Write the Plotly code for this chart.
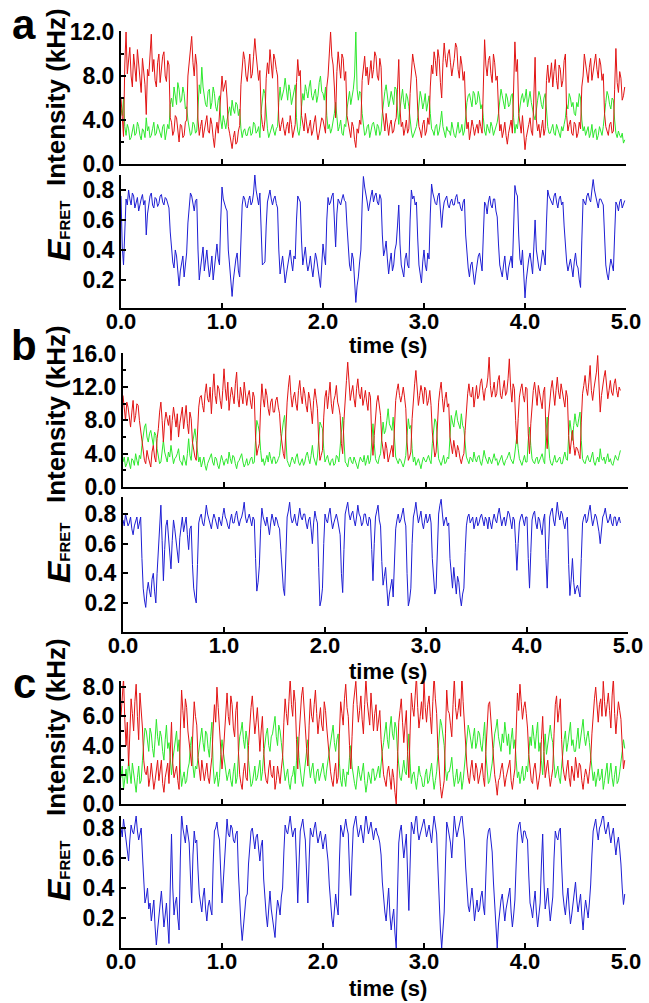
import plotly.graph_objects as go

W, H = 649, 1003
FRAME = 0.0125  # frame time in seconds

# ---------------- panel a ----------------
a_red = [
 6.0, 3.8, 2.5, 9.0, 12.0, 8.2, 9.5, 10.6, 8.0, 7.0, 10.0, 8.8, 7.5, 10.4, 9.0, 7.8, 6.5, 9.6, 8.5, 7.2,
 4.5, 8.6, 8.0, 10.2, 11.8, 8.4, 9.5, 7.6, 7.0, 9.2, 10.0, 7.4, 8.5, 9.8, 10.2, 8.0, 7.5, 9.4, 9.0, 4.2,
 3.8, 2.6, 3.0, 4.4, 4.2, 3.2, 2.0, 3.6, 3.5, 2.4, 2.6, 3.8, 4.0, 8.0, 9.5, 10.4, 11.6, 9.2, 8.0, 10.0,
 9.0, 4.0, 2.6, 3.4, 4.0, 2.4, 3.2, 3.8, 4.4, 3.0, 2.8, 4.2, 3.6, 2.4, 1.5, 3.0, 3.8, 2.8, 4.6, 6.8,
 8.0, 6.6, 7.0, 7.6, 6.0, 3.4, 2.8, 2.0, 1.4, 2.4, 3.0, 1.8, 2.0, 3.0, 3.5, 7.2, 8.5, 10.2, 9.5, 8.0,
 7.5, 9.0, 10.0, 7.8, 8.2, 9.8, 11.4, 10.0, 9.0, 7.6, 8.5, 4.6, 3.6, 3.0, 4.0, 7.8, 9.2, 8.2, 10.4, 8.8,
 7.8, 10.0, 9.5, 8.6, 8.0, 4.0, 3.0, 3.6, 4.2, 3.2, 2.6, 3.4, 3.8, 2.8, 4.4, 3.6, 2.4, 3.0, 3.6, 7.4,
 9.5, 8.0, 8.5, 4.4, 3.8, 3.0, 4.6, 3.6, 2.8, 3.4, 4.0, 2.6, 3.0, 3.8, 4.4, 3.0, 2.2, 2.8, 3.4, 4.2,
 4.0, 3.2, 2.8, 7.0, 8.0, 10.0, 12.0, 9.8, 9.0, 7.0, 4.2, 8.4, 10.2, 9.0, 7.8, 10.0, 9.6, 7.6, 8.4, 4.4,
 3.8, 3.0, 2.4, 3.8, 3.4, 2.2, 1.5, 3.2, 2.8, 4.0, 3.6, 7.6, 9.0, 9.8, 8.0, 8.8, 7.2, 8.4, 9.4, 7.8,
 8.6, 10.2, 9.8, 8.0, 7.6, 9.6, 8.8, 5.0, 3.6, 3.0, 4.6, 3.4, 2.6, 3.6, 4.0, 2.8, 3.0, 3.8, 4.2, 6.8,
 9.5, 5.0, 3.4, 3.8, 2.6, 3.2, 4.0, 2.8, 3.2, 6.4, 8.4, 10.0, 9.2, 8.6, 7.8, 5.0, 3.4, 3.0, 2.4, 3.6,
 4.0, 2.6, 3.0, 4.2, 3.6, 7.0, 9.0, 8.2, 10.2, 9.4, 8.0, 10.4, 9.6, 7.4, 6.0, 9.2, 11.0, 9.6, 8.8, 10.0,
 10.4, 9.2, 8.0, 8.8, 9.6, 11.0, 10.6, 8.6, 7.8, 9.8, 9.0, 7.6, 8.4, 5.0, 3.2, 3.8, 2.2, 3.0, 4.0, 3.4,
 2.6, 3.2, 3.6, 2.8, 4.0, 3.4, 2.8, 7.0, 11.3, 9.0, 8.0, 9.4, 9.8, 8.2, 7.4, 10.0, 9.2, 7.6, 8.0, 5.0,
 3.0, 3.6, 2.4, 3.0, 3.8, 2.6, 1.8, 2.8, 3.4, 4.0, 2.8, 8.0, 11.1, 8.4, 9.5, 4.6, 3.6, 2.8, 4.4, 3.0,
 1.3, 2.4, 3.2, 3.6, 4.2, 3.0, 2.6, 5.6, 9.7, 4.0, 3.0, 3.6, 2.4, 3.2, 4.0, 2.6, 3.2, 7.6, 9.0, 7.4,
 8.0, 9.2, 7.0, 8.4, 9.5, 7.6, 6.8, 9.0, 8.6, 7.0, 7.6, 9.4, 10.0, 4.4, 3.0, 3.6, 4.0, 2.8, 2.6, 3.8,
 3.6, 2.4, 2.8, 3.8, 3.2, 7.0, 8.0, 10.0, 9.2, 8.2, 7.4, 8.8, 9.6, 7.6, 8.4, 9.4, 10.0, 8.6, 7.8, 9.6,
 9.0, 7.6, 8.2, 4.6, 3.4, 3.0, 2.6, 3.6, 3.8, 2.8, 3.0, 6.8, 10.5, 7.4, 6.5, 8.4, 7.8, 5.8, 6.2, 7.0,
]
a_green = [
 5.0, 4.4, 6.0, 3.4, 2.6, 3.6, 3.2, 2.2, 2.4, 3.0, 3.6, 2.6, 2.8, 3.8, 3.4, 2.6, 2.2, 3.2, 3.0, 2.4,
 4.2, 3.0, 3.4, 2.4, 2.6, 3.2, 3.8, 2.6, 2.8, 3.6, 3.2, 2.8, 2.4, 3.4, 3.6, 2.2, 2.8, 3.6, 3.2, 5.4,
 6.0, 5.2, 7.0, 6.2, 5.4, 7.4, 6.8, 5.6, 5.8, 7.0, 6.4, 5.0, 5.2, 4.0, 3.4, 2.6, 2.8, 3.8, 3.6, 2.8,
 3.0, 5.8, 7.2, 6.4, 8.8, 7.0, 6.0, 5.4, 5.2, 6.6, 6.8, 5.0, 5.6, 7.0, 6.4, 5.2, 4.8, 5.8, 6.2, 4.0,
 3.2, 4.4, 3.8, 3.2, 4.0, 4.8, 5.2, 4.4, 5.8, 5.0, 4.6, 5.6, 5.4, 4.4, 5.0, 3.2, 2.4, 3.0, 3.2, 2.6,
 2.6, 3.2, 3.4, 2.6, 2.8, 3.8, 3.6, 2.8, 3.0, 3.4, 2.4, 4.8, 5.6, 6.8, 6.4, 4.4, 3.2, 2.4, 2.8, 3.4,
 3.6, 3.0, 2.6, 3.2, 3.4, 5.6, 7.0, 5.8, 6.2, 6.8, 7.8, 6.4, 5.8, 7.2, 6.6, 5.4, 6.0, 6.8, 7.2, 4.2,
 3.0, 2.6, 3.4, 5.2, 6.4, 5.8, 7.2, 6.6, 6.0, 7.0, 7.6, 6.2, 5.8, 6.4, 6.8, 5.6, 6.2, 7.4, 8.0, 6.6,
 6.4, 5.8, 7.0, 4.4, 3.2, 3.6, 2.8, 3.2, 3.8, 4.6, 5.6, 3.8, 3.0, 3.4, 4.0, 2.8, 2.6, 3.6, 3.4, 5.0,
 6.0, 6.6, 5.4, 6.0, 6.8, 8.0, 12.0, 6.8, 5.8, 6.6, 6.4, 4.6, 3.4, 2.6, 2.8, 3.4, 3.6, 2.4, 3.0, 3.6,
 3.8, 3.0, 2.6, 3.6, 3.4, 2.6, 3.0, 4.6, 6.0, 6.6, 7.2, 6.0, 5.2, 5.8, 6.6, 6.0, 5.4, 7.0, 6.8, 5.0,
 3.6, 5.0, 6.0, 6.8, 5.6, 5.0, 6.4, 6.0, 5.2, 4.0, 3.0, 2.4, 2.8, 3.2, 3.4, 4.2, 5.2, 6.6, 6.0, 5.0,
 5.6, 6.4, 4.8, 5.4, 6.2, 4.6, 3.2, 3.0, 2.6, 3.4, 3.6, 2.6, 3.0, 3.8, 4.8, 3.4, 2.8, 2.4, 3.4, 3.0,
 3.0, 2.6, 3.8, 3.0, 2.6, 2.4, 3.4, 3.8, 2.8, 3.0, 3.6, 2.6, 3.0, 4.4, 5.6, 6.2, 6.4, 5.8, 5.2, 6.6,
 6.4, 5.4, 5.6, 6.6, 6.0, 5.0, 5.4, 4.2, 3.0, 2.6, 3.6, 3.2, 2.8, 3.8, 3.4, 2.6, 3.0, 3.4, 3.8, 4.6,
 5.6, 6.8, 6.2, 5.4, 5.0, 6.4, 6.0, 5.2, 5.4, 6.2, 6.4, 4.2, 2.8, 3.6, 3.2, 4.4, 5.4, 6.0, 6.4, 5.6,
 6.0, 6.8, 5.2, 5.8, 6.6, 5.6, 4.8, 4.4, 4.0, 5.2, 5.8, 6.6, 6.2, 5.4, 5.0, 6.0, 6.4, 5.0, 3.4, 2.8,
 2.8, 3.2, 3.6, 2.8, 2.6, 3.6, 3.2, 2.6, 2.4, 3.4, 3.0, 3.6, 4.2, 5.4, 5.0, 6.4, 6.0, 5.2, 5.6, 4.6,
 4.4, 5.6, 5.2, 6.4, 6.0, 4.0, 3.0, 3.4, 2.6, 3.0, 3.4, 2.4, 2.8, 3.6, 2.4, 3.0, 3.2, 2.2, 2.6, 3.4,
 3.0, 2.6, 3.4, 4.8, 5.6, 6.6, 6.2, 5.4, 5.0, 6.0, 5.8, 4.0, 2.8, 2.4, 3.0, 2.6, 2.4, 2.8, 1.9, 2.2,
]
a_fret = [
 0.76, 0.42, 0.30, 0.56, 0.74, 0.70, 0.80, 0.74, 0.70, 0.78, 0.76, 0.68, 0.72, 0.75, 0.66, 0.71, 0.74, 0.77, 0.70, 0.73,
 0.50, 0.64, 0.72, 0.76, 0.78, 0.70, 0.68, 0.75, 0.74, 0.69, 0.71, 0.76, 0.77, 0.72, 0.70, 0.75, 0.74, 0.70, 0.68, 0.52,
 0.40, 0.32, 0.28, 0.40, 0.36, 0.24, 0.16, 0.26, 0.30, 0.36, 0.22, 0.30, 0.38, 0.58, 0.72, 0.78, 0.76, 0.70, 0.66, 0.73,
 0.74, 0.40, 0.20, 0.28, 0.34, 0.42, 0.26, 0.32, 0.40, 0.30, 0.22, 0.28, 0.36, 0.20, 0.28, 0.38, 0.44, 0.34, 0.30, 0.60,
 0.82, 0.74, 0.70, 0.68, 0.66, 0.40, 0.30, 0.18, 0.09, 0.20, 0.28, 0.34, 0.38, 0.26, 0.22, 0.48, 0.70, 0.76, 0.74, 0.69,
 0.68, 0.73, 0.76, 0.70, 0.72, 0.78, 0.90, 0.80, 0.74, 0.70, 0.78, 0.46, 0.30, 0.31, 0.32, 0.56, 0.72, 0.76, 0.80, 0.74,
 0.70, 0.74, 0.76, 0.71, 0.68, 0.40, 0.24, 0.30, 0.36, 0.28, 0.18, 0.24, 0.30, 0.34, 0.40, 0.32, 0.26, 0.36, 0.34, 0.60,
 0.76, 0.74, 0.72, 0.46, 0.30, 0.36, 0.42, 0.32, 0.26, 0.30, 0.36, 0.28, 0.22, 0.30, 0.38, 0.34, 0.28, 0.20, 0.15, 0.30,
 0.44, 0.36, 0.30, 0.60, 0.75, 0.70, 0.72, 0.76, 0.78, 0.60, 0.42, 0.64, 0.74, 0.72, 0.70, 0.74, 0.77, 0.73, 0.72, 0.56,
 0.38, 0.30, 0.26, 0.38, 0.34, 0.18, 0.05, 0.16, 0.22, 0.32, 0.40, 0.70, 0.89, 0.82, 0.78, 0.72, 0.66, 0.72, 0.76, 0.80,
 0.72, 0.76, 0.78, 0.72, 0.70, 0.77, 0.74, 0.50, 0.36, 0.40, 0.46, 0.34, 0.24, 0.32, 0.38, 0.26, 0.30, 0.40, 0.44, 0.56,
 0.70, 0.44, 0.30, 0.26, 0.22, 0.34, 0.38, 0.30, 0.28, 0.60, 0.80, 0.74, 0.76, 0.70, 0.72, 0.48, 0.30, 0.24, 0.18, 0.32,
 0.40, 0.30, 0.26, 0.38, 0.34, 0.64, 0.84, 0.78, 0.74, 0.71, 0.70, 0.76, 0.78, 0.66, 0.55, 0.66, 0.72, 0.74, 0.76, 0.70,
 0.68, 0.72, 0.74, 0.70, 0.70, 0.75, 0.77, 0.71, 0.72, 0.68, 0.66, 0.72, 0.74, 0.50, 0.36, 0.28, 0.22, 0.30, 0.32, 0.24,
 0.17, 0.24, 0.30, 0.36, 0.38, 0.30, 0.26, 0.50, 0.72, 0.70, 0.64, 0.72, 0.76, 0.70, 0.68, 0.74, 0.74, 0.66, 0.62, 0.44,
 0.30, 0.26, 0.22, 0.30, 0.36, 0.26, 0.20, 0.28, 0.32, 0.36, 0.28, 0.60, 0.83, 0.78, 0.76, 0.50, 0.34, 0.30, 0.40, 0.24,
 0.08, 0.20, 0.30, 0.34, 0.38, 0.30, 0.24, 0.42, 0.60, 0.40, 0.32, 0.28, 0.26, 0.34, 0.40, 0.36, 0.30, 0.58, 0.80, 0.76,
 0.74, 0.72, 0.70, 0.76, 0.78, 0.72, 0.68, 0.74, 0.76, 0.70, 0.72, 0.56, 0.40, 0.32, 0.26, 0.30, 0.34, 0.28, 0.22, 0.32,
 0.38, 0.30, 0.28, 0.20, 0.15, 0.46, 0.74, 0.72, 0.70, 0.76, 0.78, 0.74, 0.72, 0.80, 0.87, 0.80, 0.76, 0.70, 0.68, 0.74,
 0.74, 0.72, 0.70, 0.50, 0.30, 0.24, 0.20, 0.28, 0.34, 0.30, 0.26, 0.50, 0.72, 0.70, 0.66, 0.72, 0.74, 0.68, 0.70, 0.73,
]

# ---------------- panel b ----------------
b_red = [
 11.0, 9.4, 8.0, 10.2, 9.6, 8.4, 7.2, 9.0, 10.4, 7.8, 8.6, 10.0, 9.8, 8.0, 6.8, 5.0, 4.0, 3.2, 2.8, 4.4,
 3.6, 3.0, 2.4, 4.2, 5.0, 3.6, 3.0, 5.8, 7.0, 9.0, 10.2, 8.0, 5.4, 7.8, 9.0, 8.2, 7.4, 8.6, 5.6, 8.0,
 9.6, 8.4, 7.2, 8.8, 6.0, 7.6, 8.8, 9.6, 7.0, 8.4, 9.8, 7.6, 6.4, 9.0, 8.2, 5.4, 4.2, 3.6, 3.2, 6.4,
 9.6, 10.8, 11.0, 9.8, 9.0, 11.2, 12.4, 10.6, 10.2, 12.0, 8.8, 11.4, 13.6, 11.0, 10.0, 12.2, 11.8, 10.4, 9.4, 11.6,
 14.2, 11.8, 10.4, 12.6, 9.2, 10.8, 12.0, 11.0, 10.0, 12.4, 13.8, 10.6, 9.6, 12.0, 11.2, 10.0, 12.6, 11.4, 9.8, 11.0,
 11.6, 10.2, 9.4, 11.4, 10.8, 6.0, 3.8, 4.6, 5.2, 9.6, 12.4, 10.6, 9.6, 11.8, 11.0, 9.4, 8.6, 10.2, 10.6, 9.0,
 9.0, 10.4, 10.8, 9.6, 8.8, 6.4, 5.0, 4.0, 3.4, 7.0, 10.2, 12.0, 13.4, 11.0, 9.6, 10.8, 11.4, 10.0, 9.2, 11.6,
 12.8, 11.0, 10.0, 12.0, 11.2, 9.8, 9.0, 11.4, 10.6, 9.2, 7.6, 10.4, 11.8, 10.6, 9.4, 5.6, 3.2, 3.8, 4.4, 8.4,
 10.8, 11.6, 9.4, 11.0, 12.6, 10.0, 8.8, 10.4, 11.0, 12.2, 10.2, 9.6, 8.6, 5.2, 4.0, 8.0, 11.4, 12.8, 15.0, 11.8,
 10.4, 11.4, 12.2, 10.6, 9.6, 11.8, 13.0, 11.2, 10.6, 12.0, 9.8, 10.6, 11.6, 10.2, 9.2, 11.4, 10.8, 6.0, 3.8, 6.2,
 9.0, 10.2, 11.0, 9.6, 8.6, 5.6, 4.2, 3.4, 5.4, 4.6, 3.0, 3.8, 4.4, 5.0, 3.6, 7.4, 10.4, 11.6, 12.4, 11.0,
 10.2, 11.0, 12.0, 10.8, 9.4, 5.4, 3.2, 3.6, 4.2, 8.2, 11.0, 12.4, 14.0, 11.2, 9.8, 11.0, 12.2, 11.4, 10.0, 12.0,
 11.6, 9.8, 10.4, 11.6, 9.8, 6.6, 4.8, 3.6, 4.2, 7.6, 10.2, 11.6, 12.6, 10.6, 9.0, 10.6, 11.4, 9.6, 10.0, 6.0,
 4.8, 4.0, 5.6, 4.6, 3.6, 5.0, 4.4, 3.4, 2.8, 3.6, 4.0, 6.8, 9.6, 11.2, 12.4, 11.0, 10.8, 12.0, 9.6, 11.4,
 12.2, 10.6, 11.0, 12.4, 13.0, 11.6, 10.4, 11.8, 12.0, 13.2, 15.6, 12.2, 10.8, 11.6, 12.6, 10.8, 11.2, 12.8, 13.4, 11.0,
 10.6, 11.8, 12.8, 11.0, 11.4, 13.0, 15.4, 12.0, 10.2, 12.4, 11.8, 8.0, 5.2, 8.2, 10.8, 11.8, 12.4, 11.0, 10.2, 12.0,
 11.8, 6.4, 4.0, 7.6, 10.4, 11.6, 12.6, 10.8, 9.8, 12.2, 11.2, 10.0, 9.4, 11.4, 12.0, 6.6, 4.6, 8.4, 10.6, 11.8,
 12.8, 11.0, 9.8, 11.6, 13.2, 11.4, 10.6, 12.4, 11.4, 10.2, 9.6, 11.6, 10.8, 6.2, 4.0, 5.4, 6.8, 5.0, 3.8, 4.8,
 4.6, 4.0, 3.4, 7.8, 11.2, 12.2, 13.4, 11.8, 11.0, 12.6, 14.6, 11.6, 10.4, 11.8, 12.6, 13.8, 15.8, 11.4, 9.0, 11.0,
 12.4, 13.2, 14.0, 11.8, 10.6, 11.6, 12.8, 11.4, 11.0, 12.4, 13.0, 11.6, 10.8, 12.0, 11.6,
]
b_green = [
 3.0, 3.6, 2.4, 2.8, 3.6, 3.0, 2.2, 3.4, 3.2, 2.6, 4.0, 3.2, 2.6, 3.8, 3.4, 5.0, 6.4, 7.2, 7.6, 6.0,
 5.4, 6.4, 6.8, 5.6, 5.0, 6.6, 6.2, 4.6, 3.8, 2.8, 3.0, 4.0, 5.6, 4.2, 3.4, 3.0, 4.2, 3.6, 5.0, 3.8,
 2.8, 3.4, 3.6, 4.0, 4.6, 3.2, 3.0, 2.6, 3.8, 3.2, 2.6, 4.0, 5.8, 3.8, 3.2, 5.2, 6.4, 7.0, 5.6, 4.2,
 3.0, 3.6, 2.4, 3.0, 3.6, 2.6, 2.0, 2.8, 3.2, 3.8, 4.0, 3.0, 2.6, 3.6, 3.4, 2.6, 2.2, 3.0, 3.8, 3.2,
 2.6, 3.2, 3.4, 2.8, 4.2, 3.4, 2.8, 3.8, 3.6, 2.8, 2.2, 3.0, 3.2, 3.6, 4.0, 3.0, 2.4, 2.8, 3.4, 2.6,
 2.8, 3.4, 3.6, 2.8, 3.0, 5.6, 8.0, 7.4, 6.6, 4.4, 3.0, 3.4, 2.6, 3.2, 3.8, 3.0, 4.2, 3.4, 2.8, 3.6,
 3.6, 2.8, 3.0, 3.4, 3.8, 5.4, 7.0, 7.8, 8.6, 5.8, 3.2, 2.8, 2.4, 3.0, 3.6, 3.2, 2.8, 3.6, 4.0, 3.0,
 2.6, 3.0, 3.4, 2.6, 3.0, 3.8, 4.2, 3.4, 2.8, 3.8, 5.0, 3.6, 3.2, 2.6, 3.6, 5.6, 7.8, 7.4, 7.0, 4.6,
 3.0, 3.4, 3.8, 3.0, 2.6, 3.2, 3.4, 2.6, 2.8, 3.8, 3.6, 3.0, 4.4, 6.6, 8.4, 5.0, 3.0, 2.8, 2.4, 3.4,
 3.6, 3.0, 2.8, 3.6, 3.2, 2.8, 2.2, 3.0, 3.6, 3.2, 3.0, 3.8, 2.6, 3.2, 3.8, 2.8, 3.2, 5.4, 7.6, 5.2,
 3.4, 3.0, 2.8, 3.6, 4.0, 6.0, 7.8, 6.4, 6.8, 8.0, 9.4, 7.6, 7.2, 6.8, 8.4, 5.0, 3.6, 3.2, 2.8, 3.4,
 3.2, 2.8, 2.4, 3.0, 3.8, 6.2, 8.2, 7.0, 7.4, 4.6, 3.0, 3.6, 2.6, 3.0, 3.4, 2.8, 2.2, 3.0, 3.6, 3.2,
 3.0, 3.4, 3.8, 3.2, 2.8, 5.2, 7.2, 8.2, 7.8, 5.0, 3.4, 3.0, 2.6, 3.2, 3.8, 2.8, 3.0, 3.6, 3.4, 6.0,
 8.6, 7.8, 7.2, 8.4, 9.2, 8.0, 7.6, 7.0, 8.8, 7.4, 7.0, 5.0, 3.6, 3.2, 2.8, 3.6, 3.4, 3.0, 4.2, 3.4,
 3.0, 3.6, 3.8, 3.0, 2.6, 3.4, 4.4, 3.6, 3.2, 2.8, 3.6, 3.2, 2.8, 3.4, 4.0, 3.2, 3.4, 2.6, 3.0, 3.6,
 3.8, 3.0, 2.6, 3.2, 3.4, 3.8, 4.2, 3.4, 3.0, 2.8, 3.6, 4.8, 6.2, 4.6, 3.4, 3.0, 2.6, 3.2, 3.8, 3.0,
 3.0, 5.6, 7.2, 5.0, 3.4, 3.0, 2.8, 3.4, 3.6, 2.8, 3.2, 3.6, 4.0, 3.2, 2.8, 6.4, 8.4, 5.4, 3.4, 2.8,
 2.6, 3.2, 3.8, 3.0, 3.0, 3.4, 3.6, 2.8, 2.8, 3.6, 4.2, 3.4, 3.2, 6.2, 8.0, 6.8, 5.6, 7.4, 8.8, 7.6,
 7.2, 8.2, 9.0, 5.6, 3.4, 3.0, 2.8, 3.4, 3.8, 3.2, 3.0, 3.6, 4.2, 3.0, 2.6, 3.2, 3.6, 3.0, 4.6, 3.4,
 3.2, 3.6, 2.8, 3.4, 4.0, 3.0, 3.4, 2.8, 2.6, 3.2, 3.8, 3.4, 3.2, 3.8, 4.4,
]
b_fret = [
 0.76, 0.72, 0.80, 0.76, 0.72, 0.74, 0.78, 0.70, 0.66, 0.72, 0.75, 0.78, 0.70, 0.74, 0.78, 0.50, 0.30, 0.22, 0.17, 0.28,
 0.34, 0.28, 0.24, 0.36, 0.40, 0.28, 0.20, 0.40, 0.58, 0.74, 0.86, 0.62, 0.35, 0.56, 0.72, 0.76, 0.64, 0.54, 0.43, 0.62,
 0.76, 0.70, 0.62, 0.56, 0.47, 0.64, 0.74, 0.78, 0.68, 0.72, 0.78, 0.66, 0.56, 0.70, 0.72, 0.46, 0.30, 0.24, 0.20, 0.46,
 0.74, 0.78, 0.80, 0.74, 0.72, 0.78, 0.86, 0.80, 0.76, 0.72, 0.70, 0.76, 0.80, 0.77, 0.74, 0.70, 0.78, 0.75, 0.72, 0.79,
 0.84, 0.78, 0.76, 0.72, 0.70, 0.76, 0.80, 0.74, 0.74, 0.79, 0.82, 0.76, 0.72, 0.76, 0.78, 0.82, 0.88, 0.78, 0.74, 0.77,
 0.80, 0.76, 0.72, 0.78, 0.76, 0.50, 0.28, 0.34, 0.45, 0.70, 0.84, 0.78, 0.74, 0.72, 0.78, 0.70, 0.66, 0.74, 0.80, 0.76,
 0.72, 0.78, 0.76, 0.72, 0.70, 0.56, 0.40, 0.30, 0.25, 0.56, 0.78, 0.82, 0.88, 0.78, 0.74, 0.76, 0.80, 0.74, 0.72, 0.78,
 0.84, 0.78, 0.76, 0.80, 0.80, 0.74, 0.70, 0.76, 0.78, 0.70, 0.60, 0.74, 0.82, 0.77, 0.74, 0.44, 0.18, 0.22, 0.30, 0.60,
 0.80, 0.76, 0.74, 0.80, 0.84, 0.76, 0.70, 0.74, 0.78, 0.80, 0.76, 0.72, 0.66, 0.40, 0.27, 0.56, 0.80, 0.84, 0.88, 0.80,
 0.76, 0.80, 0.82, 0.76, 0.72, 0.78, 0.86, 0.80, 0.78, 0.72, 0.74, 0.80, 0.80, 0.74, 0.72, 0.78, 0.76, 0.56, 0.35, 0.60,
 0.78, 0.82, 0.86, 0.76, 0.72, 0.48, 0.32, 0.38, 0.44, 0.30, 0.18, 0.26, 0.30, 0.36, 0.24, 0.46, 0.70, 0.76, 0.80, 0.74,
 0.76, 0.80, 0.84, 0.76, 0.72, 0.40, 0.18, 0.22, 0.30, 0.60, 0.78, 0.82, 0.88, 0.80, 0.74, 0.78, 0.82, 0.74, 0.70, 0.76,
 0.80, 0.74, 0.76, 0.80, 0.74, 0.50, 0.33, 0.26, 0.30, 0.60, 0.80, 0.86, 0.90, 0.80, 0.72, 0.76, 0.78, 0.72, 0.74, 0.50,
 0.36, 0.30, 0.44, 0.34, 0.26, 0.38, 0.34, 0.24, 0.18, 0.26, 0.30, 0.54, 0.72, 0.78, 0.80, 0.74, 0.76, 0.78, 0.70, 0.74,
 0.78, 0.72, 0.74, 0.78, 0.80, 0.76, 0.72, 0.78, 0.76, 0.70, 0.78, 0.74, 0.70, 0.76, 0.80, 0.76, 0.74, 0.80, 0.84, 0.78,
 0.72, 0.76, 0.78, 0.72, 0.76, 0.82, 0.80, 0.74, 0.70, 0.78, 0.76, 0.60, 0.42, 0.60, 0.74, 0.78, 0.80, 0.76, 0.72, 0.78,
 0.78, 0.50, 0.30, 0.54, 0.76, 0.80, 0.82, 0.74, 0.70, 0.78, 0.76, 0.70, 0.66, 0.76, 0.80, 0.50, 0.30, 0.56, 0.78, 0.82,
 0.84, 0.76, 0.72, 0.80, 0.88, 0.80, 0.76, 0.82, 0.80, 0.74, 0.70, 0.76, 0.78, 0.46, 0.25, 0.36, 0.50, 0.34, 0.26, 0.30,
 0.32, 0.28, 0.24, 0.50, 0.74, 0.78, 0.80, 0.74, 0.76, 0.82, 0.86, 0.78, 0.72, 0.76, 0.80, 0.78, 0.74, 0.68, 0.60, 0.72,
 0.78, 0.80, 0.84, 0.78, 0.74, 0.76, 0.80, 0.74, 0.72, 0.78, 0.78, 0.72, 0.76, 0.78, 0.74,
]

# ---------------- panel c ----------------
c_red = [
 6.0, 7.4, 8.6, 5.8, 4.0, 5.6, 2.6, 4.8, 7.2, 6.2, 5.0, 7.0, 8.2, 6.0, 4.4, 7.6, 6.4, 5.2, 3.0, 2.2,
 2.0, 2.6, 1.2, 1.8, 2.8, 2.0, 1.0, 1.6, 2.4, 3.0, 1.6, 2.4, 3.0, 1.4, 0.8, 1.8, 2.2, 2.8, 1.4, 3.6,
 5.6, 2.8, 1.8, 2.2, 2.6, 1.6, 1.0, 5.0, 7.8, 6.4, 5.2, 7.2, 6.6, 5.0, 4.2, 3.4, 2.6, 5.2, 7.0, 6.0,
 5.4, 3.2, 2.2, 1.6, 3.0, 2.4, 1.6, 2.2, 2.8, 1.8, 1.4, 2.4, 3.2, 5.2, 6.8, 5.6, 8.0, 6.6, 5.0, 3.6,
 2.4, 3.4, 4.6, 6.2, 7.6, 6.0, 5.4, 7.4, 6.8, 5.2, 4.6, 6.4, 7.0, 3.6, 2.0, 1.4, 1.0, 2.2, 2.8, 1.8,
 1.6, 4.0, 5.8, 6.6, 7.4, 6.0, 4.8, 5.6, 6.6, 5.2, 3.6, 5.0, 6.0, 3.8, 2.2, 1.6, 1.4, 2.4, 3.0, 2.0,
 1.8, 2.6, 1.0, 1.6, 2.6, 2.0, 1.4, 2.4, 3.2, 5.6, 7.2, 6.2, 5.4, 7.0, 8.6, 6.8, 6.0, 7.8, 7.0, 4.4,
 2.4, 4.6, 6.4, 7.4, 8.0, 6.2, 5.2, 3.8, 2.6, 5.4, 7.2, 6.0, 5.6, 6.8, 7.8, 6.2, 4.8, 5.8, 6.6, 5.4,
 5.0, 7.0, 6.4, 5.2, 4.0, 3.0, 2.2, 1.6, 1.2, 2.2, 2.8, 1.4, 1.8, 4.8, 7.0, 6.2, 5.4, 7.2, 8.2, 6.6,
 6.0, 4.0, 2.4, 4.6, 6.8, 7.6, 8.4, 6.8, 5.6, 6.4, 7.4, 5.8, 4.8, 6.8, 8.6, 7.0, 6.2, 5.4, 7.6, 6.4,
 5.0, 6.2, 6.8, 5.0, 5.8, 6.4, 4.4, 3.0, 2.0, 1.6, 1.2, 2.2, 2.6, 1.8, 1.0, 2.4, 1.8, 0.8, 0.0, 2.8,
 5.6, 6.4, 7.2, 5.6, 4.2, 5.4, 6.4, 3.6, 1.8, 5.0, 7.6, 6.6, 6.0, 7.4, 8.8, 6.6, 5.2, 6.0, 7.0, 5.8,
 8.4, 6.6, 5.6, 6.8, 7.4, 6.0, 4.8, 7.0, 8.8, 7.2, 6.2, 3.8, 2.0, 1.2, 0.4, 1.0, 1.6, 4.8, 7.8, 6.4,
 6.2, 5.4, 4.6, 6.8, 8.6, 6.6, 5.8, 6.4, 7.2, 6.0, 8.8, 7.0, 5.4, 3.6, 2.6, 1.8, 1.4, 2.4, 3.0, 2.0,
 1.6, 2.8, 2.4, 1.4, 1.8, 2.2, 2.8, 1.8, 1.2, 3.6, 5.8, 6.8, 7.0, 5.6, 4.4, 3.0, 2.0, 1.4, 0.6, 1.6,
 1.8, 2.4, 2.8, 2.0, 1.2, 1.8, 2.2, 2.8, 3.0, 1.6, 1.0, 1.8, 2.4, 5.0, 7.6, 6.4, 8.2, 7.0, 5.8, 6.6,
 7.0, 6.2, 5.2, 3.4, 2.2, 1.6, 1.4, 2.4, 2.8, 1.8, 1.0, 1.6, 2.2, 4.4, 6.0, 3.6, 1.8, 2.4, 3.0, 2.0,
 1.2, 1.8, 2.4, 4.8, 6.8, 7.4, 5.6, 6.4, 7.2, 4.4, 2.6, 2.0, 1.6, 2.4, 3.0, 1.8, 1.2, 2.6, 2.2, 1.6,
 3.2, 2.4, 1.8, 2.8, 2.6, 1.6, 1.0, 1.8, 2.4, 2.0, 1.4, 2.2, 3.0, 4.8, 6.4, 7.2, 8.0, 6.6, 5.6, 6.8,
 7.2, 6.0, 8.4, 7.0, 6.0, 6.8, 7.6, 6.4, 5.2, 7.4, 8.6, 6.2, 4.8, 6.0, 7.0, 6.4, 5.8, 4.0, 2.4, 3.0,
]
c_green = [
 1.8, 2.6, 1.0, 1.6, 2.4, 1.4, 3.0, 2.2, 1.4, 2.8, 2.0, 1.2, 0.8, 1.8, 2.6, 1.4, 1.6, 3.0, 4.2, 5.2,
 5.0, 4.2, 3.6, 5.2, 4.8, 3.8, 3.2, 4.4, 5.8, 4.6, 4.0, 5.0, 4.6, 3.6, 3.0, 4.4, 5.4, 3.8, 4.2, 3.2,
 2.0, 3.0, 3.8, 4.6, 5.0, 3.6, 4.4, 2.4, 1.2, 1.8, 2.2, 1.4, 1.6, 2.4, 2.8, 4.0, 4.6, 2.6, 1.8, 2.6,
 2.4, 3.2, 4.0, 4.8, 5.2, 4.2, 3.6, 5.0, 4.8, 3.8, 3.2, 4.6, 5.6, 2.6, 1.4, 1.8, 2.2, 1.2, 1.8, 3.4,
 4.4, 3.6, 3.0, 2.2, 1.6, 2.0, 2.4, 1.6, 1.2, 2.2, 2.8, 1.4, 1.8, 3.4, 4.6, 5.0, 5.6, 4.4, 3.8, 5.0,
 4.4, 3.0, 2.0, 1.2, 1.4, 2.2, 2.6, 1.6, 1.8, 2.4, 3.0, 1.6, 2.2, 3.4, 4.2, 4.8, 5.2, 4.0, 3.6, 4.6,
 4.8, 5.4, 6.0, 4.6, 4.0, 5.4, 5.0, 4.2, 3.4, 2.4, 1.6, 2.0, 2.4, 1.4, 1.0, 1.8, 2.0, 2.6, 1.4, 3.0,
 4.6, 3.2, 2.2, 1.6, 1.2, 2.0, 2.6, 3.6, 4.4, 2.6, 1.8, 2.4, 2.8, 1.8, 1.4, 2.2, 2.4, 1.6, 2.0, 2.6,
 2.8, 2.0, 1.6, 2.4, 3.0, 3.8, 4.4, 4.8, 5.4, 4.2, 3.6, 4.4, 4.8, 2.8, 1.6, 1.2, 2.4, 1.8, 1.2, 2.2,
 2.0, 3.2, 4.0, 2.6, 1.8, 1.4, 1.0, 1.8, 2.6, 2.0, 1.6, 2.2, 2.8, 1.6, 0.8, 1.4, 2.2, 1.8, 1.4, 2.4,
 2.4, 1.6, 1.8, 2.2, 2.6, 1.8, 3.0, 3.6, 4.2, 5.0, 5.6, 4.4, 3.8, 5.2, 6.0, 4.8, 4.4, 5.6, 5.2, 3.6,
 2.4, 1.8, 1.6, 2.4, 3.0, 2.2, 2.0, 3.4, 4.8, 2.8, 1.4, 2.0, 2.2, 1.6, 1.0, 1.8, 2.6, 2.0, 1.8, 1.2,
 1.2, 2.0, 2.4, 1.4, 1.6, 2.2, 2.8, 1.8, 1.0, 1.6, 2.2, 3.4, 4.6, 5.8, 5.4, 4.6, 4.0, 2.4, 1.6, 2.2,
 2.2, 2.6, 3.2, 2.0, 1.2, 1.8, 2.4, 1.4, 1.6, 2.2, 1.0, 1.6, 2.6, 3.6, 4.4, 5.4, 5.0, 4.2, 3.8, 4.6,
 5.2, 3.8, 4.2, 5.0, 4.8, 4.0, 3.6, 4.6, 5.6, 3.4, 2.0, 1.4, 1.6, 2.2, 2.8, 3.8, 4.8, 5.2, 5.8, 4.6,
 4.2, 3.6, 4.8, 4.2, 5.6, 4.6, 4.0, 4.8, 3.4, 4.4, 5.2, 3.8, 4.4, 3.0, 1.8, 2.2, 1.4, 2.0, 2.6, 1.6,
 1.8, 2.6, 2.2, 3.4, 4.6, 4.0, 5.4, 4.6, 3.8, 4.8, 5.6, 3.6, 4.2, 3.0, 2.0, 3.6, 4.8, 3.4, 4.0, 4.8,
 5.4, 4.6, 4.2, 2.8, 1.8, 2.2, 2.6, 1.8, 1.4, 2.6, 3.8, 4.4, 5.0, 3.6, 4.2, 4.8, 5.6, 4.0, 4.4, 3.6,
 3.6, 4.4, 5.2, 3.8, 4.4, 5.0, 5.8, 4.6, 4.0, 4.6, 5.0, 4.2, 3.4, 2.4, 1.6, 2.2, 1.2, 1.8, 2.4, 1.6,
 1.8, 2.4, 1.0, 1.6, 2.2, 2.8, 1.4, 2.0, 2.8, 1.8, 1.2, 2.0, 2.6, 1.4, 1.6, 2.2, 2.8, 3.6, 4.4, 3.8,
]
c_fret = [
 0.80, 0.74, 0.86, 0.78, 0.74, 0.66, 0.58, 0.72, 0.82, 0.78, 0.76, 0.82, 0.88, 0.78, 0.72, 0.76, 0.80, 0.62, 0.40, 0.30,
 0.34, 0.40, 0.26, 0.30, 0.18, 0.24, 0.32, 0.14, 0.02, 0.12, 0.22, 0.30, 0.38, 0.26, 0.14, 0.22, 0.30, 0.16, 0.03, 0.40,
 0.76, 0.40, 0.22, 0.30, 0.34, 0.20, 0.12, 0.60, 0.90, 0.80, 0.76, 0.70, 0.82, 0.76, 0.70, 0.48, 0.30, 0.62, 0.78, 0.70,
 0.72, 0.52, 0.36, 0.30, 0.24, 0.34, 0.40, 0.26, 0.18, 0.28, 0.32, 0.26, 0.22, 0.56, 0.78, 0.80, 0.84, 0.76, 0.72, 0.50,
 0.30, 0.44, 0.60, 0.78, 0.86, 0.76, 0.74, 0.82, 0.80, 0.72, 0.70, 0.76, 0.78, 0.50, 0.30, 0.16, 0.05, 0.18, 0.24, 0.34,
 0.36, 0.56, 0.70, 0.78, 0.80, 0.72, 0.66, 0.74, 0.76, 0.66, 0.58, 0.68, 0.72, 0.46, 0.30, 0.22, 0.14, 0.28, 0.38, 0.26,
 0.20, 0.14, 0.07, 0.22, 0.32, 0.28, 0.22, 0.34, 0.40, 0.64, 0.82, 0.78, 0.76, 0.82, 0.88, 0.80, 0.74, 0.78, 0.80, 0.56,
 0.30, 0.56, 0.78, 0.82, 0.86, 0.78, 0.72, 0.50, 0.30, 0.58, 0.80, 0.76, 0.74, 0.80, 0.84, 0.76, 0.70, 0.74, 0.78, 0.72,
 0.66, 0.72, 0.76, 0.66, 0.58, 0.42, 0.30, 0.20, 0.14, 0.26, 0.36, 0.28, 0.22, 0.58, 0.82, 0.78, 0.74, 0.80, 0.86, 0.80,
 0.76, 0.52, 0.35, 0.60, 0.80, 0.84, 0.88, 0.80, 0.74, 0.78, 0.82, 0.76, 0.70, 0.80, 0.90, 0.82, 0.76, 0.80, 0.84, 0.78,
 0.72, 0.78, 0.80, 0.76, 0.74, 0.70, 0.62, 0.44, 0.30, 0.24, 0.18, 0.30, 0.40, 0.22, 0.12, 0.20, 0.26, 0.10, 0.00, 0.36,
 0.70, 0.78, 0.82, 0.70, 0.60, 0.68, 0.76, 0.50, 0.25, 0.56, 0.84, 0.80, 0.76, 0.84, 0.90, 0.78, 0.72, 0.76, 0.80, 0.84,
 0.86, 0.80, 0.74, 0.78, 0.82, 0.76, 0.70, 0.80, 0.88, 0.82, 0.76, 0.54, 0.30, 0.12, 0.00, 0.14, 0.24, 0.56, 0.84, 0.80,
 0.76, 0.70, 0.60, 0.76, 0.88, 0.80, 0.74, 0.78, 0.82, 0.86, 0.90, 0.80, 0.72, 0.54, 0.36, 0.28, 0.24, 0.34, 0.40, 0.30,
 0.18, 0.26, 0.32, 0.24, 0.26, 0.34, 0.38, 0.28, 0.22, 0.48, 0.72, 0.78, 0.80, 0.72, 0.64, 0.44, 0.30, 0.12, 0.00, 0.16,
 0.26, 0.32, 0.36, 0.24, 0.18, 0.26, 0.30, 0.36, 0.40, 0.24, 0.14, 0.22, 0.32, 0.56, 0.76, 0.82, 0.84, 0.76, 0.70, 0.78,
 0.78, 0.74, 0.72, 0.48, 0.30, 0.26, 0.20, 0.30, 0.38, 0.24, 0.14, 0.22, 0.30, 0.56, 0.76, 0.44, 0.26, 0.32, 0.40, 0.28,
 0.18, 0.26, 0.34, 0.60, 0.78, 0.74, 0.72, 0.78, 0.80, 0.56, 0.36, 0.28, 0.22, 0.32, 0.40, 0.26, 0.16, 0.22, 0.30, 0.38,
 0.44, 0.32, 0.24, 0.30, 0.36, 0.22, 0.12, 0.24, 0.32, 0.26, 0.20, 0.30, 0.42, 0.62, 0.78, 0.82, 0.86, 0.78, 0.72, 0.80,
 0.82, 0.86, 0.90, 0.80, 0.76, 0.80, 0.84, 0.76, 0.70, 0.76, 0.80, 0.70, 0.62, 0.70, 0.74, 0.66, 0.56, 0.40, 0.29, 0.36,
]

x_tickvals = [0, 1, 2, 3, 4, 5]
x_ticktext = ["0.0", "1.0", "2.0", "3.0", "4.0", "5.0"]
fret_tickvals = [0.2, 0.4, 0.6, 0.8]
panel_letters = ["a", "b", "c"]

RED = "rgb(226,20,20)"
GREEN = "rgb(45,232,45)"
BLUE = "rgb(30,30,212)"
FONT = "Liberation Sans, Arial, sans-serif"


def px_x(p):
    return p / W


def px_y(p):
    return 1 - p / H


def frame_times(values):
    return [round(i * FRAME, 5) for i in range(len(values))]


panels = [
    dict(red=a_red, green=a_green, fret=a_fret, xpx=(121, 626), ipx=(31, 164), fpx=(175, 308),
         irange=[0, 12.09], idtick=4, iminor=2, frange=[0.013, 0.9],
         letter_y=24, ititle_y=97, ftitle_y=231, time_y=346),
    dict(red=b_red, green=b_green, fret=b_fret, xpx=(123, 628), ipx=(353, 487), fpx=(497, 632),
         irange=[0, 16.1], idtick=4, iminor=2, frange=[0.004, 0.915],
         letter_y=346, ititle_y=414, ftitle_y=553, time_y=671),
    dict(red=c_red, green=c_green, fret=c_fret, xpx=(121, 626), ipx=(681, 804), fpx=(816, 948),
         irange=[0, 8.42], idtick=2, iminor=1, frange=[0.0, 0.88],
         letter_y=683, ititle_y=727, ftitle_y=871, time_y=988),
]

fig = go.Figure()
layout = dict(
    template="none",
    width=W, height=H, margin=dict(l=0, r=0, t=0, b=0, pad=0, autoexpand=False),
    paper_bgcolor="white", plot_bgcolor="white", showlegend=False,
    font=dict(family=FONT, color="black"),
)
annotations = []

axis_common = dict(
    showline=True, linecolor="black", linewidth=2, mirror=False, automargin=False,
    ticks="inside", ticklen=5, tickwidth=2, tickcolor="black",
    showgrid=False, zeroline=False,
)
xfont = dict(family=FONT, size=22, color="black", weight="bold")
yfont = dict(family=FONT, size=23, color="black", weight="bold")

for k, p in enumerate(panels):
    ia = 2 * k + 1
    fa = 2 * k + 2
    xd = [px_x(p["xpx"][0]), px_x(p["xpx"][1])]

    xi = "x" if ia == 1 else f"x{ia}"
    yi = "y" if ia == 1 else f"y{ia}"
    xf = f"x{fa}"
    yf = f"y{fa}"

    fig.add_trace(go.Scatter(x=frame_times(p["green"]), y=p["green"], mode="lines",
                             line=dict(color=GREEN, width=1), xaxis=xi, yaxis=yi))
    fig.add_trace(go.Scatter(x=frame_times(p["red"]), y=p["red"], mode="lines",
                             line=dict(color=RED, width=1), xaxis=xi, yaxis=yi))
    fig.add_trace(go.Scatter(x=frame_times(p["fret"]), y=p["fret"], mode="lines",
                             line=dict(color=BLUE, width=1), xaxis=xf, yaxis=yf))

    xname_i = "xaxis" if ia == 1 else f"xaxis{ia}"
    yname_i = "yaxis" if ia == 1 else f"yaxis{ia}"
    layout[xname_i] = dict(axis_common, domain=xd, range=[0, 5], anchor=yi, tickfont=xfont,
                           tickvals=x_tickvals, ticktext=x_ticktext, showticklabels=False)
    layout[yname_i] = dict(axis_common, domain=[px_y(p["ipx"][1]), px_y(p["ipx"][0])],
                           range=p["irange"], anchor=xi, tickmode="linear", tick0=0,
                           dtick=p["idtick"], tickformat=".1f", tickfont=yfont,
                           minor=dict(dtick=p["iminor"], tick0=0, ticks="inside", ticklen=3,
                                      tickwidth=2, tickcolor="black", showgrid=False))
    layout[f"xaxis{fa}"] = dict(axis_common, domain=xd, range=[0, 5], anchor=yf, tickfont=xfont,
                                tickvals=x_tickvals, ticktext=x_ticktext, ticklabelstandoff=-7)
    layout[f"yaxis{fa}"] = dict(axis_common, domain=[px_y(p["fpx"][1]), px_y(p["fpx"][0])],
                                range=p["frange"], anchor=xf, tickvals=fret_tickvals,
                                tickformat=".1f", tickfont=yfont)

    annotations.append(dict(text=f"<b>{panel_letters[k]}</b>", x=px_x(24), y=px_y(p["letter_y"]),
                            xref="paper", yref="paper", xanchor="center", yanchor="middle",
                            showarrow=False, font=dict(family=FONT, size=42, color="black")))
    annotations.append(dict(text="<b>Intensity (kHz)</b>", x=px_x(56), y=px_y(p["ititle_y"]),
                            xref="paper", yref="paper", xanchor="center", yanchor="middle",
                            textangle=-90, showarrow=False,
                            font=dict(family=FONT, size=26, color="black")))
    annotations.append(dict(text="<b><i>E</i></b><span style='font-size:15px'><b>FRET</b></span>",
                            x=px_x(59), y=px_y(p["ftitle_y"]),
                            xref="paper", yref="paper", xanchor="center", yanchor="middle",
                            textangle=-90, showarrow=False,
                            font=dict(family=FONT, size=32, color="black")))
    annotations.append(dict(text="<b>time (s)</b>", x=px_x(388), y=px_y(p["time_y"]),
                            xref="paper", yref="paper", xanchor="center", yanchor="middle",
                            showarrow=False, font=dict(family=FONT, size=22, color="black")))

layout["annotations"] = annotations
fig.update_layout(**layout)
fig.write_html("out.html", config={"displayModeBar": False},
               post_script="document.body.style.margin='0px';")
